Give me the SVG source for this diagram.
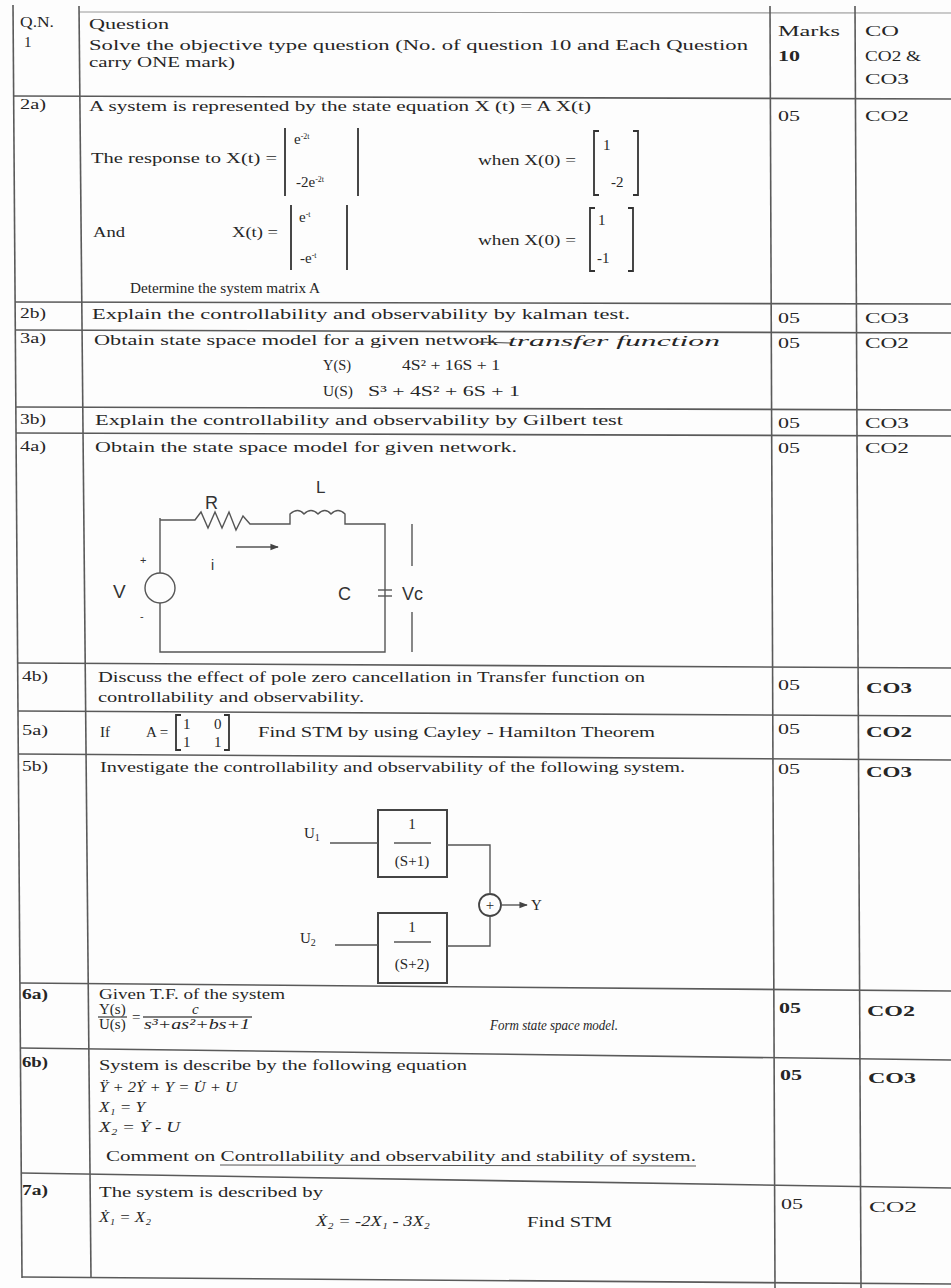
<svg xmlns="http://www.w3.org/2000/svg" width="951" height="1288" viewBox="0 0 951 1288">
<style>
.t{font-family:"Liberation Serif","Times New Roman",serif;font-size:15px;fill:#262626}
.it{font-style:italic}
.s{font-family:"Liberation Sans",Arial,sans-serif;fill:#333}
.b{font-weight:bold}
.g{stroke:#5a5a5a;stroke-width:1.6;fill:none}
.gl{stroke:#9a9a9a;stroke-width:1.2;fill:none}
.w{stroke:#555;stroke-width:1.4;fill:none}
.br{stroke:#333;stroke-width:1.8;fill:none}
</style>
<defs>
<marker id="ah" viewBox="0 0 10 10" refX="9" refY="5" markerWidth="6" markerHeight="6" orient="auto"><path d="M0,1 L10,5 L0,9 z" fill="#444"/></marker>
</defs>
<rect width="951" height="1288" fill="#fdfdfd"/>

<g id="grid">
<line class="gl" x1="80" y1="12" x2="951" y2="13"/>
<line class="g" x1="13" y1="5" x2="22" y2="1278"/>
<line class="g" x1="79" y1="6" x2="91" y2="1278"/>
<line class="g" x1="770" y1="6" x2="775" y2="1288"/>
<line class="g" x1="855" y1="6" x2="861" y2="1288"/>
<line class="g" x1="13" y1="96" x2="951" y2="99"/>
<line class="g" x1="15" y1="302" x2="951" y2="304"/>
<line class="g" x1="15" y1="330" x2="951" y2="333"/>
<line class="g" x1="16" y1="407" x2="951" y2="410"/>
<line class="g" x1="16" y1="433" x2="951" y2="436"/>
<line class="g" x1="17" y1="663" x2="951" y2="668"/>
<line class="g" x1="18" y1="711" x2="951" y2="716"/>
<line class="g" x1="18" y1="754" x2="951" y2="760"/>
<line class="g" x1="20" y1="983" x2="951" y2="991"/>
<line class="g" x1="20" y1="1048" x2="951" y2="1060"/>
<line class="g" x1="21" y1="1173" x2="951" y2="1188"/>
<line class="g" x1="22" y1="1277" x2="951" y2="1284"/>
</g>

<g id="header">
<text class="t" x="20" y="27" textLength="34" lengthAdjust="spacingAndGlyphs">Q.N.</text>
<text class="t" x="89" y="29" textLength="80" lengthAdjust="spacingAndGlyphs">Question</text>
<text class="t" x="778" y="36" textLength="62" lengthAdjust="spacingAndGlyphs">Marks</text>
<text class="t" x="865" y="36" textLength="34" lengthAdjust="spacingAndGlyphs">CO</text>
</g>

<g id="row-1">
<text class="t" x="24" y="47">1</text>
<text class="t" x="89" y="50" textLength="659" lengthAdjust="spacingAndGlyphs">Solve the objective type question (No. of question 10 and Each Question</text>
<text class="t" x="89" y="67" textLength="146" lengthAdjust="spacingAndGlyphs">carry ONE mark)</text>
<text class="t b" x="778" y="61" textLength="22" lengthAdjust="spacingAndGlyphs">10</text>
<text class="t" x="865" y="61" textLength="56" lengthAdjust="spacingAndGlyphs">CO2 &amp;</text>
<text class="t" x="865" y="84" textLength="44" lengthAdjust="spacingAndGlyphs">CO3</text>
</g>

<g id="row-2a">
<text class="t" x="20" y="109" textLength="26" lengthAdjust="spacingAndGlyphs">2a)</text>
<text class="t" x="89" y="111" textLength="502" lengthAdjust="spacingAndGlyphs">A system is represented by the state equation  X (t) = A X(t)</text>
<text class="t" x="778" y="121" textLength="22" lengthAdjust="spacingAndGlyphs">05</text>
<text class="t" x="865" y="121" textLength="44" lengthAdjust="spacingAndGlyphs">CO2</text>
<text class="t" x="91" y="163" textLength="186" lengthAdjust="spacingAndGlyphs">The response to X(t) =</text>
<line class="br" x1="285" y1="128" x2="285" y2="196"/>
<line class="br" x1="358" y1="128" x2="358" y2="196"/>
<text class="t" x="294" y="144" font-size="12">e<tspan font-size="8" dy="-5">-2t</tspan></text>
<text class="t" x="296" y="187" font-size="12">-2e<tspan font-size="8" dy="-5">-2t</tspan></text>
<text class="t" x="478" y="165" textLength="98" lengthAdjust="spacingAndGlyphs">when X(0) =</text>
<path class="br" d="M599,131 H594 V195 H599 M633,131 H638 V195 H633"/>
<text class="t" x="603" y="150" font-size="13">1</text>
<text class="t" x="611" y="187" font-size="13">-2</text>
<text class="t" x="93" y="237" textLength="32" lengthAdjust="spacingAndGlyphs">And</text>
<text class="t" x="232" y="237" textLength="46" lengthAdjust="spacingAndGlyphs">X(t) =</text>
<line class="br" x1="291" y1="205" x2="291" y2="270"/>
<line class="br" x1="347" y1="205" x2="347" y2="270"/>
<text class="t" x="299" y="222" font-size="12">e<tspan font-size="8" dy="-5">-t</tspan></text>
<text class="t" x="300" y="263" font-size="12">-e<tspan font-size="8" dy="-5">-t</tspan></text>
<text class="t" x="478" y="245" textLength="98" lengthAdjust="spacingAndGlyphs">when X(0) =</text>
<path class="br" d="M595,208 H590 V271 H595 M628,208 H633 V271 H628"/>
<text class="t" x="598" y="225" font-size="13">1</text>
<text class="t" x="597" y="263" font-size="13">-1</text>
<text class="t" x="130" y="293" textLength="190" lengthAdjust="spacingAndGlyphs">Determine the system matrix A</text>
</g>

<g id="row-2b">
<text class="t" x="20" y="318" textLength="26" lengthAdjust="spacingAndGlyphs">2b)</text>
<text class="t" x="92" y="319" textLength="538" lengthAdjust="spacingAndGlyphs">Explain the controllability and observability by kalman test.</text>
<text class="t" x="778" y="323" textLength="22" lengthAdjust="spacingAndGlyphs">05</text>
<text class="t" x="865" y="323" textLength="44" lengthAdjust="spacingAndGlyphs">CO3</text>
</g>

<g id="row-3a">
<text class="t" x="20" y="343" textLength="26" lengthAdjust="spacingAndGlyphs">3a)</text>
<text class="t" x="94" y="345" textLength="404" lengthAdjust="spacingAndGlyphs">Obtain state space model for a given network</text>
<line stroke="#444" stroke-width="1.2" x1="478" y1="342" x2="510" y2="343"/>
<text class="t it" x="508" y="346" font-size="17" textLength="212" lengthAdjust="spacingAndGlyphs">transfer function</text>
<text class="t" x="778" y="348" textLength="22" lengthAdjust="spacingAndGlyphs">05</text>
<text class="t" x="865" y="348" textLength="44" lengthAdjust="spacingAndGlyphs">CO2</text>
<text class="t" x="323" y="370" font-size="13" textLength="28" lengthAdjust="spacingAndGlyphs">Y(S)</text>
<text class="t" x="402" y="370" font-size="13" textLength="98" lengthAdjust="spacingAndGlyphs">4S² + 16S + 1</text>
<text class="t" x="323" y="396" font-size="13" textLength="30" lengthAdjust="spacingAndGlyphs">U(S)</text>
<text class="t" x="368" y="396" font-size="13" textLength="152" lengthAdjust="spacingAndGlyphs">S³ + 4S² + 6S + 1</text>
</g>

<g id="row-3b">
<text class="t" x="20" y="424" textLength="26" lengthAdjust="spacingAndGlyphs">3b)</text>
<text class="t" x="95" y="425" textLength="528" lengthAdjust="spacingAndGlyphs">Explain the controllability and observability by Gilbert test</text>
<text class="t" x="778" y="428" textLength="22" lengthAdjust="spacingAndGlyphs">05</text>
<text class="t" x="865" y="428" textLength="44" lengthAdjust="spacingAndGlyphs">CO3</text>
</g>

<g id="row-4a">
<text class="t" x="20" y="451" textLength="26" lengthAdjust="spacingAndGlyphs">4a)</text>
<text class="t" x="95" y="452" textLength="422" lengthAdjust="spacingAndGlyphs">Obtain the state space model for given network.</text>
<text class="t" x="778" y="453" textLength="22" lengthAdjust="spacingAndGlyphs">05</text>
<text class="t" x="865" y="453" textLength="44" lengthAdjust="spacingAndGlyphs">CO2</text>
</g>

<g id="circuit">
<path class="w" d="M160,518 V573 M160,603 V652 H385 V524 H345 V514 q-7,-7 -14,0 q-6,-7 -13,0 q-7,-7 -14,0 q-6,-7 -14,0 V524 H250 L243,516 L236,530 L229,512 L222,528 L215,512 L208,528 L201,512 L195,520 H160"/>
<circle class="w" cx="160" cy="588" r="15"/>
<line class="w" x1="378" y1="590" x2="392" y2="590"/>
<line class="w" x1="378" y1="596" x2="392" y2="596"/>
<line class="w" x1="412" y1="524" x2="412" y2="566"/>
<line class="w" x1="412" y1="612" x2="412" y2="652"/>
<line class="w" x1="236" y1="547" x2="278" y2="547" marker-end="url(#ah)"/>
<text class="s" x="140" y="564" font-size="11">+</text>
<text class="s" x="140" y="620" font-size="11">-</text>
<text class="s" x="113" y="598" font-size="19">V</text>
<text class="s" x="205" y="509" font-size="18">R</text>
<text class="s" x="316" y="493" font-size="17">L</text>
<text class="s" x="211" y="570" font-size="14">i</text>
<text class="s" x="338" y="600" font-size="18">C</text>
<text class="s" x="402" y="600" font-size="18">Vc</text>
</g>

<g id="row-4b">
<text class="t" x="22" y="681" textLength="26" lengthAdjust="spacingAndGlyphs">4b)</text>
<text class="t" x="98" y="682" textLength="547" lengthAdjust="spacingAndGlyphs">Discuss the effect of pole zero cancellation in Transfer function on</text>
<text class="t" x="98" y="702" textLength="266" lengthAdjust="spacingAndGlyphs">controllability and observability.</text>
<text class="t" x="778" y="690" textLength="22" lengthAdjust="spacingAndGlyphs">05</text>
<text class="t b" x="866" y="693" textLength="46" lengthAdjust="spacingAndGlyphs">CO3</text>
</g>

<g id="row-5a">
<text class="t" x="22" y="735" textLength="26" lengthAdjust="spacingAndGlyphs">5a)</text>
<text class="t" x="100" y="737">If</text>
<text class="t" x="146" y="737">A =</text>
<path class="br" d="M181,715 H176 V750 H181 M224,715 H229 V750 H224"/>
<text class="t" x="183" y="729" font-size="12">1</text>
<text class="t" x="214" y="729" font-size="12">0</text>
<text class="t" x="183" y="747" font-size="12">1</text>
<text class="t" x="214" y="747" font-size="12">1</text>
<text class="t" x="258" y="737" textLength="397" lengthAdjust="spacingAndGlyphs">Find STM by using Cayley - Hamilton Theorem</text>
<text class="t" x="778" y="734" textLength="22" lengthAdjust="spacingAndGlyphs">05</text>
<text class="t b" x="866" y="737" textLength="46" lengthAdjust="spacingAndGlyphs">CO2</text>
</g>

<g id="row-5b">
<text class="t" x="22" y="771" textLength="26" lengthAdjust="spacingAndGlyphs">5b)</text>
<text class="t" x="100" y="772" textLength="585" lengthAdjust="spacingAndGlyphs">Investigate the controllability and observability of the following system.</text>
<text class="t" x="778" y="774" textLength="22" lengthAdjust="spacingAndGlyphs">05</text>
<text class="t b" x="866" y="777" textLength="46" lengthAdjust="spacingAndGlyphs">CO3</text>
</g>

<g id="block-diagram">
<g id="block-g1">
<rect x="378" y="810" width="69" height="67" fill="none" stroke="#444" stroke-width="2"/>
<text class="t" x="412" y="829" font-size="13" text-anchor="middle">1</text>
<line class="w" x1="394" y1="843" x2="431" y2="843"/>
<text class="t" x="412" y="866" font-size="12" text-anchor="middle">(S+1)</text>
</g>
<g id="block-g2">
<rect x="378" y="913" width="69" height="70" fill="none" stroke="#444" stroke-width="2"/>
<text class="t" x="412" y="932" font-size="13" text-anchor="middle">1</text>
<line class="w" x1="394" y1="942" x2="431" y2="942"/>
<text class="t" x="412" y="969" font-size="12" text-anchor="middle">(S+2)</text>
</g>
<g id="block-sum">
<circle cx="490" cy="905" r="11" fill="none" stroke="#444" stroke-width="1.8"/>
<text class="t" x="490" y="910" font-size="13" text-anchor="middle">+</text>
</g>
<text class="t" x="304" y="838" font-size="14">U<tspan font-size="10" dy="3">1</tspan></text>
<text class="t" x="300" y="943" font-size="14">U<tspan font-size="10" dy="3">2</tspan></text>
<text class="t" x="531" y="910" font-size="14">Y</text>
<g id="connectors">
<line class="w" x1="330" y1="843" x2="378" y2="843"/>
<line class="w" x1="335" y1="945" x2="378" y2="945"/>
<polyline class="w" points="447,845 490,845 490,894"/>
<polyline class="w" points="447,946 490,946 490,916"/>
<line class="w" x1="501" y1="905" x2="527" y2="905" marker-end="url(#ah)"/>
</g>
</g>

<g id="row-6a">
<text class="t b" x="22" y="999" textLength="26" lengthAdjust="spacingAndGlyphs">6a)</text>
<text class="t" x="99" y="999" textLength="186" lengthAdjust="spacingAndGlyphs">Given T.F. of the system</text>
<text class="t" x="99" y="1014" font-size="11">Y(s)</text>
<line class="w" x1="98" y1="1017" x2="127" y2="1017"/>
<text class="t" x="99" y="1029" font-size="11">U(s)</text>
<text class="t" x="132" y="1022" font-size="12">=</text>
<text class="t it" x="192" y="1014" font-size="10">c</text>
<line class="w" x1="143" y1="1017" x2="252" y2="1017"/>
<text class="t it" x="144" y="1029" font-size="11" textLength="106" lengthAdjust="spacingAndGlyphs">s³+as²+bs+1</text>
<text class="t it" x="490" y="1030" textLength="128" lengthAdjust="spacingAndGlyphs">Form state space model.</text>
<text class="t b" x="779" y="1013" textLength="22" lengthAdjust="spacingAndGlyphs">05</text>
<text class="t b" x="867" y="1016" textLength="48" lengthAdjust="spacingAndGlyphs">CO2</text>
</g>

<g id="row-6b">
<text class="t b" x="22" y="1067" textLength="26" lengthAdjust="spacingAndGlyphs">6b)</text>
<text class="t" x="99" y="1070" textLength="368" lengthAdjust="spacingAndGlyphs">System is describe by the following equation</text>
<text class="t it" x="99" y="1092" font-size="13" textLength="138" lengthAdjust="spacingAndGlyphs">Ÿ + 2Ẏ + Y = U̇ + U</text>
<text class="t it" x="99" y="1112" font-size="13" textLength="46" lengthAdjust="spacingAndGlyphs">X₁ = Y</text>
<text class="t it" x="99" y="1132" font-size="13" textLength="81" lengthAdjust="spacingAndGlyphs">X₂ = Ẏ - U</text>
<text class="t" x="106" y="1161" textLength="590" lengthAdjust="spacingAndGlyphs">Comment on  Controllability and observability and stability of system.</text>
<line stroke="#555" stroke-width="1" x1="220" y1="1165" x2="696" y2="1166"/>
<text class="t b" x="780" y="1080" textLength="22" lengthAdjust="spacingAndGlyphs">05</text>
<text class="t b" x="868" y="1083" textLength="48" lengthAdjust="spacingAndGlyphs">CO3</text>
</g>

<g id="row-7a">
<text class="t b" x="22" y="1195" textLength="26" lengthAdjust="spacingAndGlyphs">7a)</text>
<text class="t" x="99" y="1197" textLength="224" lengthAdjust="spacingAndGlyphs">The system is described by</text>
<text class="t it" x="99" y="1222" font-size="13" textLength="52" lengthAdjust="spacingAndGlyphs">Ẋ₁ = X₂</text>
<text class="t it" x="316" y="1226" font-size="13" textLength="114" lengthAdjust="spacingAndGlyphs">Ẋ₂ = -2X₁ - 3X₂</text>
<text class="t" x="527" y="1227" textLength="85" lengthAdjust="spacingAndGlyphs">Find STM</text>
<text class="t" x="781" y="1209" textLength="22" lengthAdjust="spacingAndGlyphs">05</text>
<text class="t" x="869" y="1212" textLength="48" lengthAdjust="spacingAndGlyphs">CO2</text>
</g>
</svg>
